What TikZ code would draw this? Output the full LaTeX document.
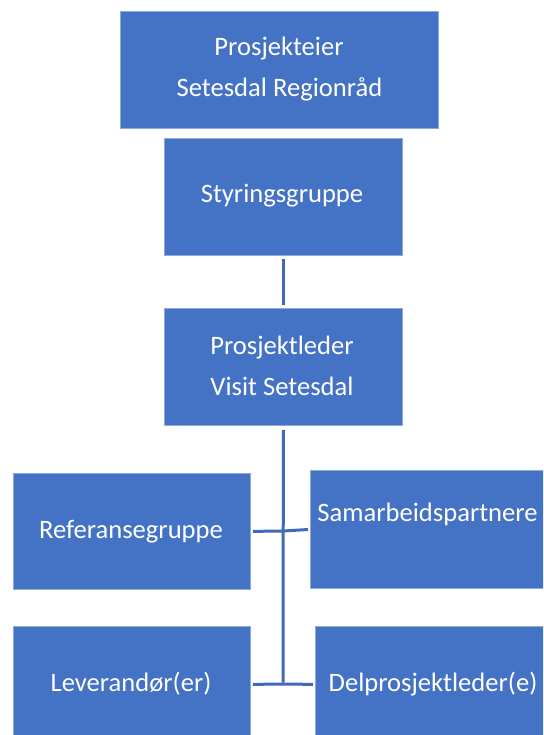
\documentclass[tikz,border=0pt]{standalone}
\usepackage{fontspec}
\setmainfont{Carlito}
\definecolor{obox}{HTML}{4472C4}
\definecolor{oedge}{HTML}{8FAADC}
\definecolor{oline}{HTML}{4169B8}
\begin{document}
\begin{tikzpicture}[x=1pt,y=-1pt,
  orgbox/.style={rectangle, fill=obox, draw=oedge, line width=0.8pt, inner sep=0pt, anchor=north west},
  lbl/.style={text=white, font=\fontsize{26.6}{41}\selectfont, inner sep=0pt, anchor=base},
  conn/.style={draw=oline, line width=3pt}]
\useasboundingbox (0,0) rectangle (543,735);
\clip (0,0) rectangle (543,735);
% boxes
\node[orgbox, minimum width=318pt, minimum height=117pt] (eier) at (120,11) {};
\node[orgbox, minimum width=238pt, minimum height=117pt] (styr) at (164,138) {};
\node[orgbox, minimum width=238pt, minimum height=117pt] (pl) at (164,308) {};
\node[orgbox, minimum width=237pt, minimum height=116pt] (ref) at (13,473) {};
\node[orgbox, minimum width=238pt, minimum height=118pt] (sam) at (310,470) {};
\node[orgbox, minimum width=237pt, minimum height=116pt] (lev) at (13,626) {};
\node[orgbox, minimum width=238pt, minimum height=116pt] (del) at (315,626) {};
% labels
\node[lbl] (t1a) at (279,56) {Prosjekteier};
\node[lbl] (t1b) at (279.5,97) {Setesdal Regionråd};
\node[lbl] (t2) at (282,202.7) {Styringsgruppe};
\node[lbl] (t3a) at (282,354) {Prosjektleder};
\node[lbl] (t3b) at (282,395) {Visit Setesdal};
\node[lbl] (t4) at (131,538.3) {Referansegruppe};
\node[lbl] (t5) at (427.5,521.7) {Samarbeidspartnere};
\node[lbl] (t6) at (131,691.7) {Leverandør(er)};
\node[lbl] (t7) at (433,691.7) {Delprosjektleder(e)};
% connectors
\coordinate (j1) at (283,531);
\coordinate (j2) at (283,684);
\draw[conn, shorten <=3pt, shorten >=3pt] (styr.south) -- (pl.north);
\draw[conn, shorten <=4pt] (pl.south) -- ([yshift=1.5pt]j2);
\draw[conn, shorten <=2pt] (ref.east) -- (j1);
\draw[conn, shorten <=2pt] (sam.west) -- (j1);
\draw[conn, shorten <=2pt] (lev.east) -- (j2);
\draw[conn, shorten <=2pt] (del.west) -- (j2);
\end{tikzpicture}
\end{document}
